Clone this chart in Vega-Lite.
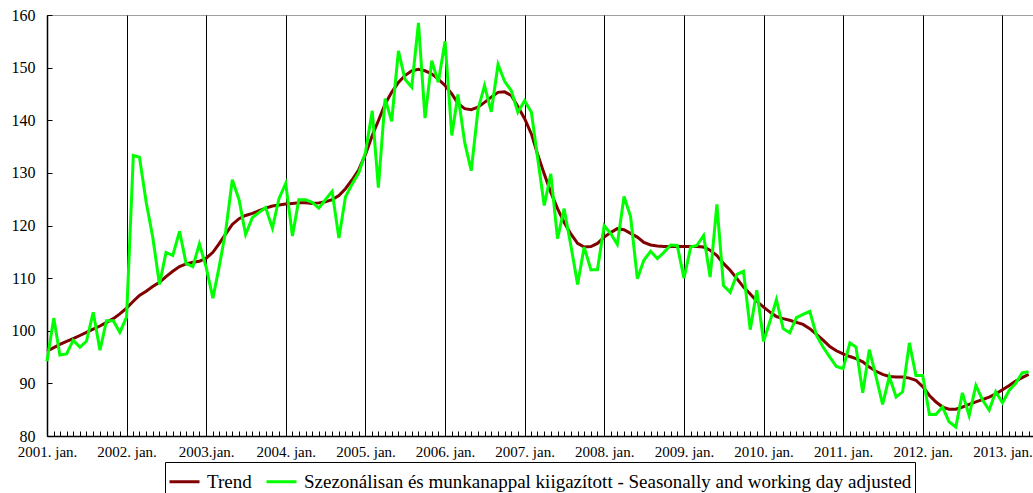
{
  "$schema": "https://vega.github.io/schema/vega-lite/v6.json",
  "width": 986,
  "height": 421,
  "autosize": {"type": "none"},
  "padding": {"left": 47, "top": 15, "right": 0, "bottom": 57},
  "background": "white",
  "config": {
    "view": {"stroke": "#a0a0a0", "strokeWidth": 1},
    "font": "Liberation Serif"
  },
  "data": {"values": [
    {"m":"2001-01-01","Trend":96.1,"SA":94.2},
    {"m":"2001-02-01","Trend":96.8,"SA":102.4},
    {"m":"2001-03-01","Trend":97.4,"SA":95.4},
    {"m":"2001-04-01","Trend":98.0,"SA":95.6},
    {"m":"2001-05-01","Trend":98.5,"SA":98.2},
    {"m":"2001-06-01","Trend":99.1,"SA":96.9},
    {"m":"2001-07-01","Trend":99.7,"SA":98.0},
    {"m":"2001-08-01","Trend":100.3,"SA":103.5},
    {"m":"2001-09-01","Trend":100.9,"SA":96.3},
    {"m":"2001-10-01","Trend":101.6,"SA":101.9},
    {"m":"2001-11-01","Trend":102.3,"SA":101.9},
    {"m":"2001-12-01","Trend":103.2,"SA":99.7},
    {"m":"2002-01-01","Trend":104.3,"SA":102.6},
    {"m":"2002-02-01","Trend":105.6,"SA":133.3},
    {"m":"2002-03-01","Trend":106.7,"SA":133.0},
    {"m":"2002-04-01","Trend":107.5,"SA":124.4},
    {"m":"2002-05-01","Trend":108.4,"SA":117.8},
    {"m":"2002-06-01","Trend":109.2,"SA":108.8},
    {"m":"2002-07-01","Trend":110.3,"SA":114.9},
    {"m":"2002-08-01","Trend":111.3,"SA":114.3},
    {"m":"2002-09-01","Trend":112.2,"SA":118.9},
    {"m":"2002-10-01","Trend":112.7,"SA":112.8},
    {"m":"2002-11-01","Trend":113.0,"SA":112.2},
    {"m":"2002-12-01","Trend":113.2,"SA":116.5},
    {"m":"2003-01-01","Trend":113.8,"SA":112.1},
    {"m":"2003-02-01","Trend":114.9,"SA":106.2},
    {"m":"2003-03-01","Trend":116.5,"SA":112.0},
    {"m":"2003-04-01","Trend":118.4,"SA":119.0},
    {"m":"2003-05-01","Trend":120.2,"SA":128.7},
    {"m":"2003-06-01","Trend":121.3,"SA":124.9},
    {"m":"2003-07-01","Trend":121.9,"SA":118.3},
    {"m":"2003-08-01","Trend":122.3,"SA":121.5},
    {"m":"2003-09-01","Trend":122.8,"SA":122.5},
    {"m":"2003-10-01","Trend":123.3,"SA":123.4},
    {"m":"2003-11-01","Trend":123.7,"SA":119.5},
    {"m":"2003-12-01","Trend":123.9,"SA":125.1},
    {"m":"2004-01-01","Trend":124.1,"SA":128.0},
    {"m":"2004-02-01","Trend":124.2,"SA":118.0},
    {"m":"2004-03-01","Trend":124.3,"SA":124.9},
    {"m":"2004-04-01","Trend":124.3,"SA":124.9},
    {"m":"2004-05-01","Trend":124.2,"SA":124.4},
    {"m":"2004-06-01","Trend":124.3,"SA":123.3},
    {"m":"2004-07-01","Trend":124.5,"SA":124.9},
    {"m":"2004-08-01","Trend":124.9,"SA":126.5},
    {"m":"2004-09-01","Trend":125.7,"SA":117.6},
    {"m":"2004-10-01","Trend":127.0,"SA":125.4},
    {"m":"2004-11-01","Trend":128.7,"SA":127.9},
    {"m":"2004-12-01","Trend":130.6,"SA":130.0},
    {"m":"2005-01-01","Trend":133.5,"SA":133.9},
    {"m":"2005-02-01","Trend":137.1,"SA":141.8},
    {"m":"2005-03-01","Trend":139.9,"SA":127.2},
    {"m":"2005-04-01","Trend":143.1,"SA":144.1},
    {"m":"2005-05-01","Trend":145.3,"SA":139.8},
    {"m":"2005-06-01","Trend":147.2,"SA":153.2},
    {"m":"2005-07-01","Trend":148.5,"SA":147.8},
    {"m":"2005-08-01","Trend":149.4,"SA":146.3},
    {"m":"2005-09-01","Trend":149.7,"SA":158.5},
    {"m":"2005-10-01","Trend":149.4,"SA":140.4},
    {"m":"2005-11-01","Trend":148.8,"SA":151.3},
    {"m":"2005-12-01","Trend":147.8,"SA":147.2},
    {"m":"2006-01-01","Trend":146.6,"SA":155.0},
    {"m":"2006-02-01","Trend":145.0,"SA":137.1},
    {"m":"2006-03-01","Trend":143.2,"SA":144.9},
    {"m":"2006-04-01","Trend":142.2,"SA":135.8},
    {"m":"2006-05-01","Trend":142.0,"SA":130.4},
    {"m":"2006-06-01","Trend":142.5,"SA":142.0},
    {"m":"2006-07-01","Trend":143.4,"SA":146.6},
    {"m":"2006-08-01","Trend":144.4,"SA":141.6},
    {"m":"2006-09-01","Trend":145.3,"SA":150.6},
    {"m":"2006-10-01","Trend":145.4,"SA":147.4},
    {"m":"2006-11-01","Trend":144.7,"SA":145.6},
    {"m":"2006-12-01","Trend":142.6,"SA":141.5},
    {"m":"2007-01-01","Trend":140.3,"SA":143.7},
    {"m":"2007-02-01","Trend":137.4,"SA":141.5},
    {"m":"2007-03-01","Trend":133.6,"SA":133.0},
    {"m":"2007-04-01","Trend":129.8,"SA":123.8},
    {"m":"2007-05-01","Trend":126.3,"SA":129.8},
    {"m":"2007-06-01","Trend":123.2,"SA":117.5},
    {"m":"2007-07-01","Trend":120.6,"SA":123.2},
    {"m":"2007-08-01","Trend":118.4,"SA":116.2},
    {"m":"2007-09-01","Trend":116.6,"SA":108.8},
    {"m":"2007-10-01","Trend":115.9,"SA":115.9},
    {"m":"2007-11-01","Trend":116.0,"SA":111.6},
    {"m":"2007-12-01","Trend":116.6,"SA":111.6},
    {"m":"2008-01-01","Trend":117.8,"SA":120.0},
    {"m":"2008-02-01","Trend":118.7,"SA":118.4},
    {"m":"2008-03-01","Trend":119.4,"SA":116.4},
    {"m":"2008-04-01","Trend":119.2,"SA":125.5},
    {"m":"2008-05-01","Trend":118.5,"SA":121.7},
    {"m":"2008-06-01","Trend":117.8,"SA":109.9},
    {"m":"2008-07-01","Trend":116.8,"SA":113.4},
    {"m":"2008-08-01","Trend":116.3,"SA":115.1},
    {"m":"2008-09-01","Trend":116.1,"SA":113.7},
    {"m":"2008-10-01","Trend":116.0,"SA":114.9},
    {"m":"2008-11-01","Trend":116.0,"SA":116.3},
    {"m":"2008-12-01","Trend":116.0,"SA":116.2},
    {"m":"2009-01-01","Trend":116.0,"SA":110.0},
    {"m":"2009-02-01","Trend":116.0,"SA":115.9},
    {"m":"2009-03-01","Trend":116.0,"SA":116.2},
    {"m":"2009-04-01","Trend":115.9,"SA":118.1},
    {"m":"2009-05-01","Trend":115.3,"SA":110.2},
    {"m":"2009-06-01","Trend":114.3,"SA":124.0},
    {"m":"2009-07-01","Trend":112.8,"SA":108.6},
    {"m":"2009-08-01","Trend":111.5,"SA":107.3},
    {"m":"2009-09-01","Trend":109.9,"SA":110.7},
    {"m":"2009-10-01","Trend":108.3,"SA":111.3},
    {"m":"2009-11-01","Trend":107.0,"SA":100.2},
    {"m":"2009-12-01","Trend":105.6,"SA":107.7},
    {"m":"2010-01-01","Trend":104.5,"SA":98.0},
    {"m":"2010-02-01","Trend":103.5,"SA":102.0},
    {"m":"2010-03-01","Trend":102.7,"SA":105.9},
    {"m":"2010-04-01","Trend":102.3,"SA":100.4},
    {"m":"2010-05-01","Trend":102.0,"SA":99.6},
    {"m":"2010-06-01","Trend":101.6,"SA":102.5},
    {"m":"2010-07-01","Trend":101.2,"SA":103.1},
    {"m":"2010-08-01","Trend":100.4,"SA":103.7},
    {"m":"2010-09-01","Trend":99.3,"SA":99.1},
    {"m":"2010-10-01","Trend":98.2,"SA":96.9},
    {"m":"2010-11-01","Trend":97.0,"SA":95.0},
    {"m":"2010-12-01","Trend":96.2,"SA":93.2},
    {"m":"2011-01-01","Trend":95.6,"SA":92.8},
    {"m":"2011-02-01","Trend":95.1,"SA":97.7},
    {"m":"2011-03-01","Trend":94.7,"SA":96.9},
    {"m":"2011-04-01","Trend":94.1,"SA":88.2},
    {"m":"2011-05-01","Trend":93.1,"SA":96.4},
    {"m":"2011-06-01","Trend":92.3,"SA":91.3},
    {"m":"2011-07-01","Trend":91.7,"SA":86.0},
    {"m":"2011-08-01","Trend":91.3,"SA":91.3},
    {"m":"2011-09-01","Trend":91.2,"SA":87.4},
    {"m":"2011-10-01","Trend":91.2,"SA":88.4},
    {"m":"2011-11-01","Trend":91.0,"SA":97.7},
    {"m":"2011-12-01","Trend":90.6,"SA":91.5},
    {"m":"2012-01-01","Trend":89.4,"SA":91.5},
    {"m":"2012-02-01","Trend":87.7,"SA":84.1},
    {"m":"2012-03-01","Trend":86.5,"SA":84.1},
    {"m":"2012-04-01","Trend":85.5,"SA":85.5},
    {"m":"2012-05-01","Trend":85.1,"SA":82.7},
    {"m":"2012-06-01","Trend":85.1,"SA":81.7},
    {"m":"2012-07-01","Trend":85.5,"SA":88.2},
    {"m":"2012-08-01","Trend":86.0,"SA":83.9},
    {"m":"2012-09-01","Trend":86.5,"SA":89.6},
    {"m":"2012-10-01","Trend":86.9,"SA":86.9},
    {"m":"2012-11-01","Trend":87.4,"SA":84.9},
    {"m":"2012-12-01","Trend":88.0,"SA":88.4},
    {"m":"2013-01-01","Trend":88.8,"SA":86.3},
    {"m":"2013-02-01","Trend":89.6,"SA":88.7},
    {"m":"2013-03-01","Trend":90.4,"SA":89.9},
    {"m":"2013-04-01","Trend":91.1,"SA":92.0},
    {"m":"2013-05-01","Trend":91.7,"SA":92.2}
  ]},
  "transform": [{"fold": ["Trend", "SA"], "as": ["series", "value"]}],
  "mark": {"type": "line", "strokeWidth": 3},
  "encoding": {
    "x": {
      "field": "m",
      "type": "temporal",
      "scale": {"type": "utc", "domain": ["2001-01-01", "2013-05-21"], "nice": false},
      "axis": {
        "title": null,
        "tickCount": {"interval": "month", "step": 1},
        "labelExpr": "utcmonth(datum.value) == 0 ? (utcyear(datum.value) == 2003 ? '2003.jan.' : utcyear(datum.value) + '. jan.') : ''",
        "labelOverlap": false,
        "labelFlush": false,
        "labelBound": false,
        "labelFont": "Liberation Serif",
        "labelFontSize": 15,
        "labelColor": "black",
        "labelPadding": 13,
        "domainColor": "black",
        "domainWidth": 1.5,
        "ticks": true,
        "tickSize": -5,
        "tickColor": "black",
        "tickWidth": 1,
        "grid": true,
        "gridColor": "black",
        "gridWidth": 1,
        "gridOpacity": {"condition": {"test": "utcmonth(datum.value) == 0", "value": 1}, "value": 0}
      }
    },
    "y": {
      "field": "value",
      "type": "quantitative",
      "scale": {"domain": [80, 160], "nice": false, "zero": false},
      "axis": {
        "title": null,
        "values": [80, 90, 100, 110, 120, 130, 140, 150, 160],
        "grid": false,
        "labelFont": "Liberation Serif",
        "labelFontSize": 16,
        "labelColor": "black",
        "labelPadding": 17,
        "domainColor": "black",
        "domainWidth": 1.5,
        "tickSize": -5,
        "tickColor": "black"
      }
    },
    "color": {
      "field": "series",
      "type": "nominal",
      "scale": {"domain": ["Trend", "SA"], "range": ["#800000", "#00ff00"]},
      "legend": {
        "title": null,
        "orient": "none",
        "legendX": 118,
        "legendY": 447,
        "direction": "horizontal",
        "strokeColor": "black",
        "padding": 3,
        "symbolType": "stroke",
        "symbolStrokeWidth": 3,
        "symbolSize": 900,
        "labelFont": "Liberation Serif",
        "labelFontSize": 19,
        "labelColor": "black",
        "labelLimit": 900,
        "labelOffset": 6,
        "columnPadding": 8,
        "labelExpr": "datum.label == 'Trend' ? 'Trend' : 'Szezonálisan és munkanappal kiigazított - Seasonally and working day adjusted'"
      }
    }
  }
}
